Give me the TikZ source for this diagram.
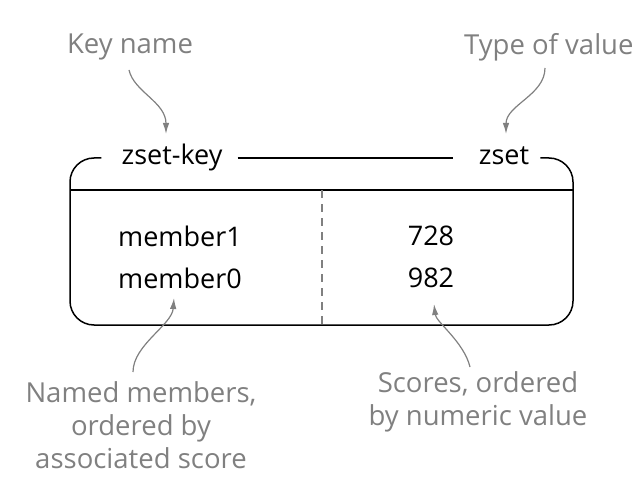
\documentclass[tikz,border=0pt]{standalone}
\usepackage{fontspec}
\setmainfont{Open Sans}
\usetikzlibrary{positioning,arrows.meta}

\definecolor{notegray}{RGB}{128,128,128}
\tikzset{
  keytext/.style={font=\fontsize{27}{31}\selectfont, text=black, inner sep=0pt},
  boxlabel/.style={keytext, text height=19pt, text depth=6pt},
  boxline/.style={draw=black, line width=1.5pt},
  note/.style={font=\fontsize{27.5}{33}\selectfont, text=notegray, align=center, inner sep=0pt},
  pointer/.style={draw=notegray, line width=1.2pt, -{Latex[length=11pt,width=6.5pt]}},
}

\begin{document}
\begin{tikzpicture}[x=1pt,y=-1pt]
  \useasboundingbox (0,0) rectangle (640,484);

  % Define nodes
  \node[note]                      (keyname)   at (130,47)  {Key name};
  \node[note, anchor=west]         (typename)  at (464,47)  {Type of value};
  \node[boxlabel]                  (zsetkey)   at (172,158) {zset-key};
  \node[boxlabel]                  (zsettype)  at (504,158) {zset};
  \node[keytext]                   (member1)   at (180,236) {member1};
  \node[keytext, below=21pt of member1] (member0) {member0};
  \node[keytext]                   (score1)    at (431,236) {728};
  \node[keytext]                   (score0)    at (score1 |- member0) {982};
  \node[note]                      (membernote) at (141,425) {Named members,\\ordered by\\associated score};
  \node[note]                      (scorenote)  at (478,402) {Scores, ordered\\by numeric value};

  % Box corners
  \coordinate (sepw) at (70,190);
  \coordinate (sepe) at (573,190);
  \coordinate (dashtop) at (322,190);
  \coordinate (dashbot) at (322,325);

  % Free ends of the pointers
  \coordinate (keytail)  at (129,70);
  \coordinate (keytip)   at (166,134);
  \coordinate (typetail) at (545,68);
  \coordinate (typetip)  at (506,134);
  \coordinate (memtail)  at (133,372);
  \coordinate (memtip)   at (174,298);
  \coordinate (scoretail) at (470,367);
  \coordinate (scoretip)  at (434,304);

  % Draw the box
  \draw[boxline, rounded corners=24pt]
    ([xshift=-20pt]zsetkey.west) -- (70,158) -- (70,325) -- (573,325)
    -- (573,158) -- ([xshift=11pt]zsettype.east);
  \draw[boxline] ([xshift=15pt]zsetkey.east) -- ([xshift=-26pt]zsettype.west);
  \draw[boxline, line width=1.8pt] (sepw) -- (sepe);
  \draw[notegray, line width=1.2pt, dash pattern=on 8pt off 6pt] (dashtop) -- (dashbot);

  % Connect the notes
  \draw[pointer] (keytail) .. controls (134,92) and (166,102) .. (keytip);
  \draw[pointer] (typetail) .. controls (545,95) and (506,105) .. (typetip);
  \draw[pointer] (memtail) .. controls (133,345) and (172,325) .. (memtip);
  \draw[pointer] (scoretail) .. controls (464,342) and (436,322) .. (scoretip);

\end{tikzpicture}
\end{document}
